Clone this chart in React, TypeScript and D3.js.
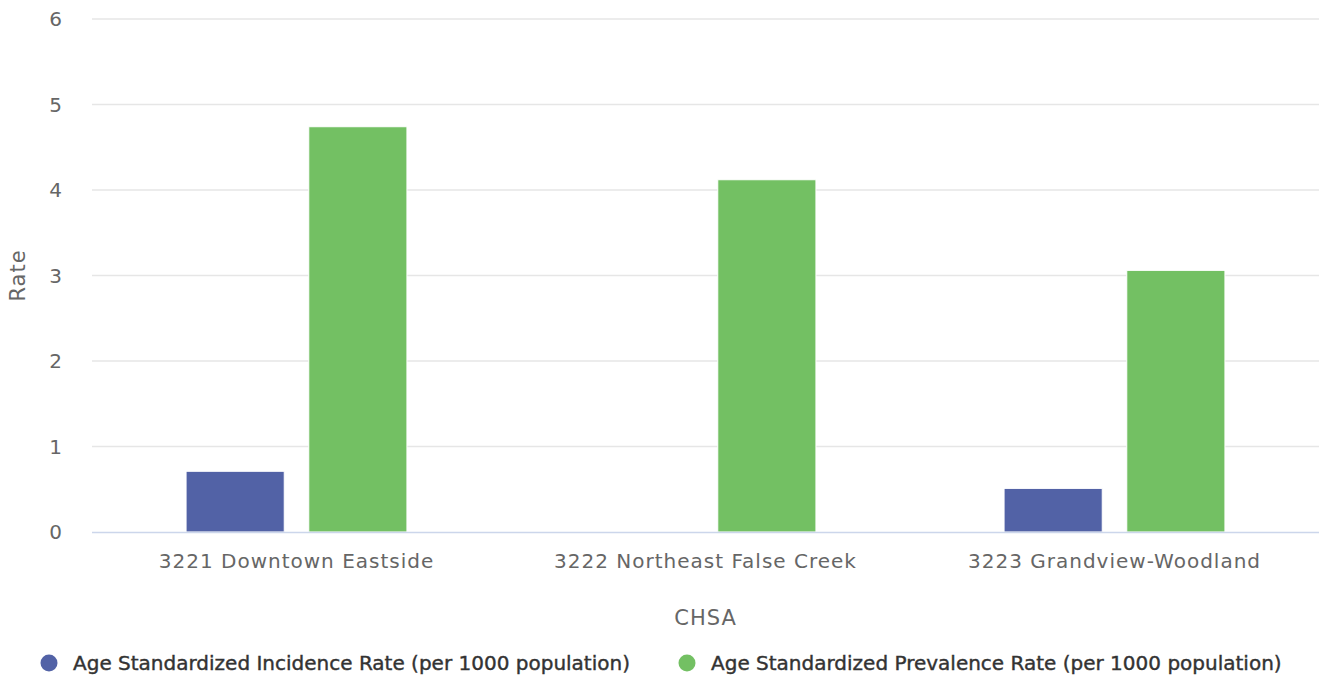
import React from "react";
import * as d3 from "d3";

const categories = ["3221 Downtown Eastside", "3222 Northeast False Creek", "3223 Grandview-Woodland"];
const incidence: (number | null)[] = [0.71, null, 0.51];
const prevalence: number[] = [4.74, 4.12, 3.06];
const seriesNames = [
  "Age Standardized Incidence Rate (per 1000 population)",
  "Age Standardized Prevalence Rate (per 1000 population)",
];
const colors = ["#5262a6", "#73c063"];
const yTicks = [0, 1, 2, 3, 4, 5, 6];

const W = 1319, H = 677;
const left = 92, right = 1319, top = 19, bottom = 532;
const FONT = "'DejaVu Sans', sans-serif";

export default function App() {
  const x = d3.scaleBand<string>().domain(categories).range([left, right]).paddingInner(0).paddingOuter(0);
  const y = d3.scaleLinear().domain([0, 6]).range([bottom, top]);
  const bw = x.bandwidth();
  const groupPad = bw * 0.2;
  const slot = (bw - 2 * groupPad) / 2;
  const pp = slot * 0.1;
  const series = [incidence, prevalence];
  return (
    <svg width={W} height={H} style={{ position: "absolute", left: 0, top: 0, fontFamily: FONT }}>
      <rect width={W} height={H} fill="#fff" />
      {yTicks.map((t) => (
        <g key={t}>
          {t !== 0 && <line x1={left} x2={right} y1={y(t)} y2={y(t)} stroke="#e6e6e6" strokeWidth={1.5} />}
          <text x={62} y={y(t) + 7} textAnchor="end" fill="#666" fontSize={20}>{t}</text>
        </g>
      ))}
      {series.map((s, si) =>
        categories.map((c, ci) => {
          const v = s[ci];
          if (v == null) return null;
          const x0 = (x(c) as number) + groupPad + si * slot + pp;
          return (
            <rect key={si + "-" + ci} x={x0} y={y(v)} width={slot - 2 * pp} height={y(0) - y(v)}
              fill={colors[si]} stroke="#fff" strokeWidth={1} />
          );
        })
      )}
      <line x1={left} x2={right} y1={bottom + 0.5} y2={bottom + 0.5} stroke="#ccd6eb" strokeWidth={1.5} />
      {categories.map((c) => (
        <text key={c} x={(x(c) as number) + bw / 2} y={568} textAnchor="middle" fill="#666" fontSize={20} letterSpacing={1}>{c}</text>
      ))}
      <text x={(left + right) / 2} y={625} textAnchor="middle" fill="#666" fontSize={21} letterSpacing={1}>CHSA</text>
      <text transform={`translate(25,${(top + bottom) / 2}) rotate(-90)`} textAnchor="middle" fill="#666" fontSize={21} letterSpacing={1}>Rate</text>
      {seriesNames.map((n, i) => {
        const lx = i === 0 ? 49 : 687;
        return (
          <g key={n}>
            <circle cx={lx} cy={663} r={8.5} fill={colors[i]} />
            <text x={lx + 24} y={670} fill="#333" fontSize={20} stroke="#333" strokeWidth={0.4}>{n}</text>
          </g>
        );
      })}
    </svg>
  );
}
